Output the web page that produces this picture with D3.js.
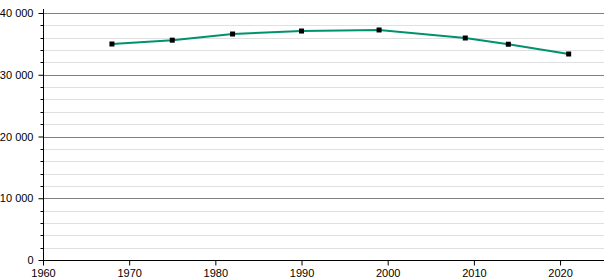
<!DOCTYPE html>
<html><head><meta charset="utf-8">
<script src="https://cdn.jsdelivr.net/npm/d3@7"></script>
<style>body{margin:0;background:#fff}svg{display:block}text{font-family:"Liberation Sans",Arial,sans-serif;font-size:11px;fill:#000}</style>
</head><body><svg id="c" width="615" height="280"></svg>
<script>
const years = [1968, 1975, 1982, 1990, 1999, 2009, 2014, 2021];
const population = [34980, 35600, 36600, 37080, 37250, 35950, 34940, 33360];
const yTicks = [0, 10000, 20000, 30000, 40000];
const xTicks = [1960, 1970, 1980, 1990, 2000, 2010, 2020];

const svg = d3.select("#c");
const x = d3.scaleLinear().domain([1960, 2025.1]).range([43, 604]);
const y = d3.scaleLinear().domain([0, 40000]).range([260, 13]);
const minor = d3.range(2000, 40001, 2000).filter(v => v % 10000 !== 0);
const fmt = v => d3.format(",")(v).replace(/,/g, " ");

// minor grid
svg.append("g").selectAll("line").data(minor).join("line")
  .attr("x1", 43).attr("x2", 604)
  .attr("y1", d => Math.round(y(d)) + 0.5).attr("y2", d => Math.round(y(d)) + 0.5)
  .attr("stroke", "#e0e0e0").attr("stroke-width", 1);
// major grid
svg.append("g").selectAll("line").data(yTicks.filter(d => d > 0)).join("line")
  .attr("x1", 43).attr("x2", 604)
  .attr("y1", d => Math.round(y(d)) + 0.5).attr("y2", d => Math.round(y(d)) + 0.5)
  .attr("stroke", "#808080").attr("stroke-width", 1);

// y axis
const yAxis = d3.axisLeft(y).tickValues(yTicks).tickSize(5).tickPadding(5).tickFormat(fmt);
const gy = svg.append("g").attr("transform", "translate(43.5,0)").call(yAxis);
gy.select(".domain").remove();
gy.append("line").attr("x1", 0).attr("x2", 0).attr("y1", 9).attr("y2", 260.5).attr("stroke", "#000");
gy.selectAll(".tick line").attr("stroke", "#000");
gy.selectAll("text").attr("font-size", 11).attr("font-family", "Liberation Sans, Arial, sans-serif").attr("fill", "#000");
gy.selectAll(".minor").data(minor).join("line").attr("class", "minor")
  .attr("x1", -3).attr("x2", 0)
  .attr("y1", d => Math.round(y(d)) + 0.5).attr("y2", d => Math.round(y(d)) + 0.5)
  .attr("stroke", "#000");

// x axis
const xAxis = d3.axisBottom(x).tickValues(xTicks).tickSize(5).tickPadding(4).tickFormat(d3.format("d"));
const gx = svg.append("g").attr("transform", "translate(0,260.5)").call(xAxis);
gx.select(".domain").remove();
gx.append("line").attr("x1", 43).attr("x2", 604).attr("y1", 0).attr("y2", 0).attr("stroke", "#000");
gx.selectAll(".tick line").attr("stroke", "#000");
gx.selectAll("text").attr("font-size", 11).attr("font-family", "Liberation Sans, Arial, sans-serif").attr("fill", "#000");

// line
const data = years.map((yr, i) => ({yr, v: population[i]}));
svg.append("path").datum(data)
  .attr("fill", "none").attr("stroke", "#00916e").attr("stroke-width", 2)
  .attr("d", d3.line().x(d => x(d.yr)).y(d => y(d.v)));
svg.append("g").selectAll("rect").data(data).join("rect")
  .attr("x", d => x(d.yr) - 2.5).attr("y", d => y(d.v) - 2.5)
  .attr("width", 5).attr("height", 5).attr("fill", "#000");
</script></body></html>
